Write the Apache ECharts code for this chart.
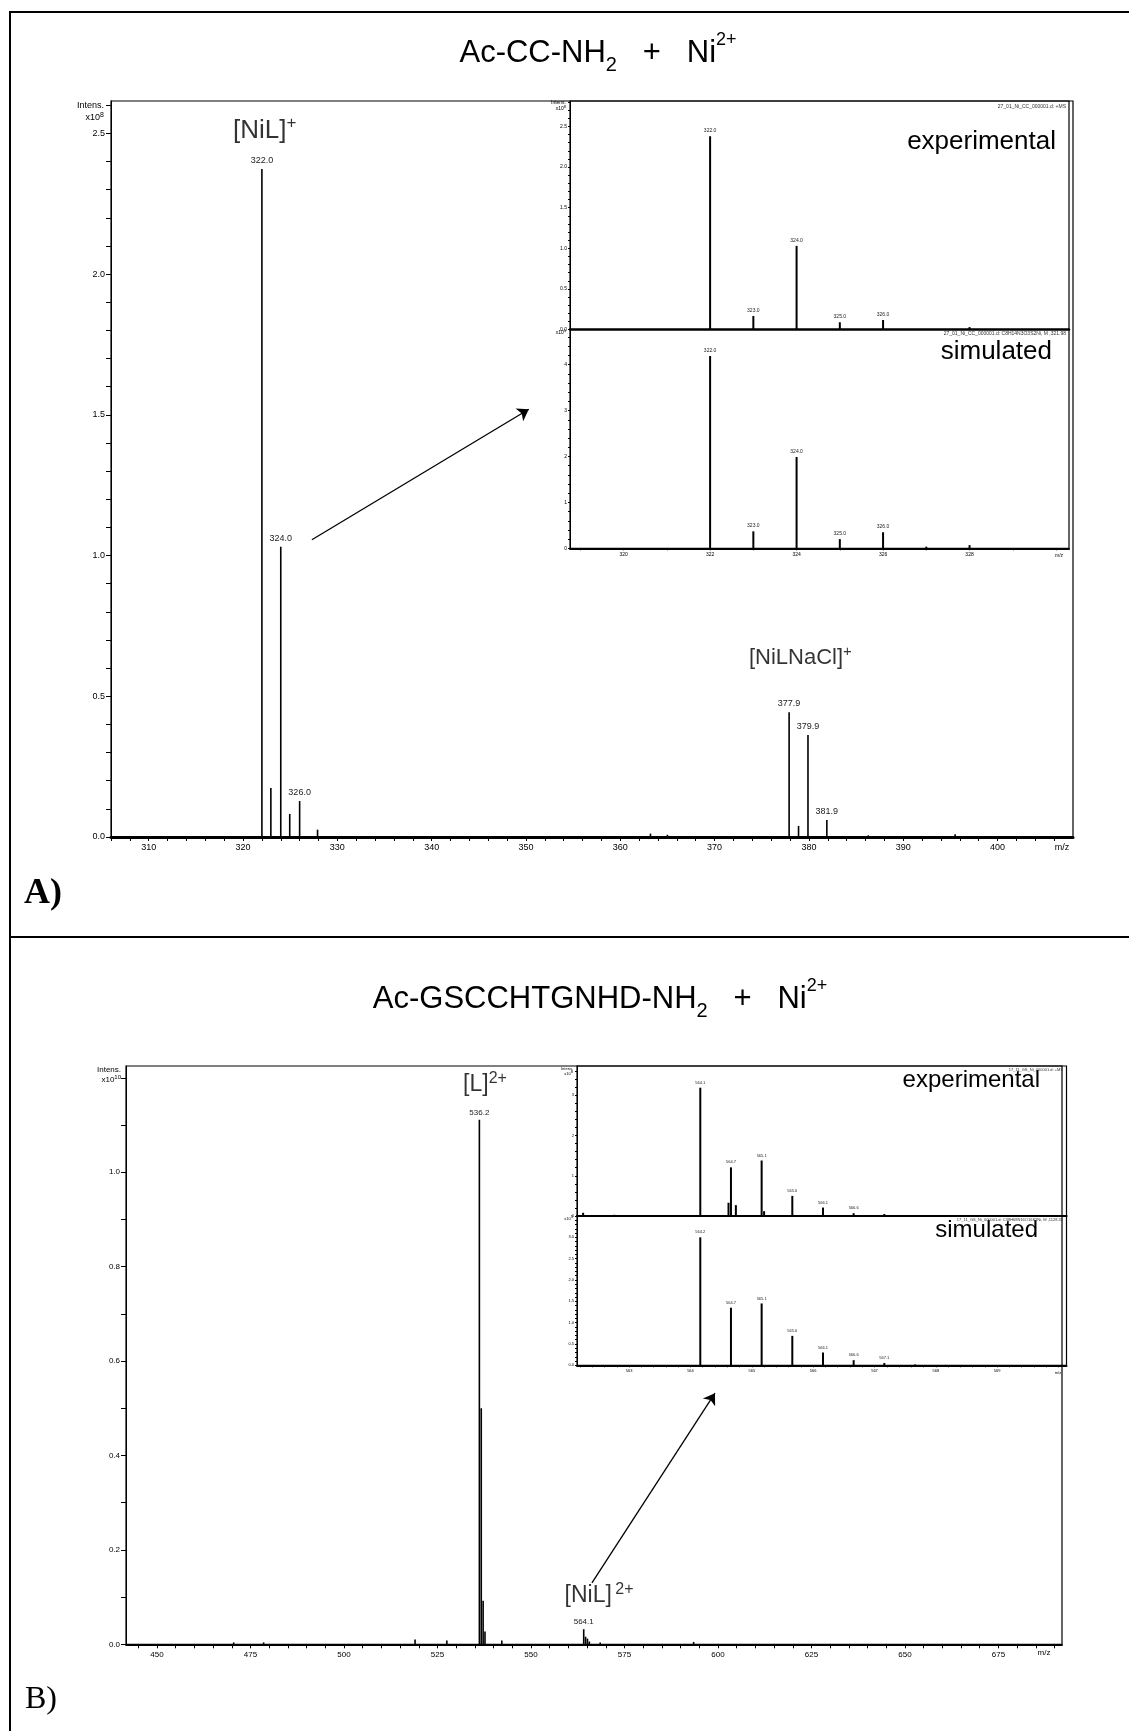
<!DOCTYPE html>
<html>
<head>
<meta charset="utf-8">
<script src="https://cdn.jsdelivr.net/npm/echarts@6/dist/echarts.min.js"></script>
<style>
  html, body { margin: 0; padding: 0; background: #fff; }
  #main { width: 1129px; height: 1731px; }
</style>
</head>
<body>
<div id="main"></div>
<script>
const FONT = 'Liberation Sans';

// Panel A, full spectrum (Intens. x10^8)
const aMainMz  = [322.0, 322.95, 324.0, 324.95, 326.0, 327.9, 363.2, 365.0, 377.9, 378.9, 379.9, 381.9, 386.3, 395.5];
const aMainInt = [2.373, 0.174, 1.031, 0.082, 0.128, 0.026, 0.012, 0.008, 0.443, 0.039, 0.362, 0.060, 0.006, 0.010];
const aMainLbl = ['322.0', '', '324.0', '', '326.0', '', '', '', '377.9', '', '379.9', '381.9', '', ''];

// Panel A inset, experimental (x10^8) and simulated (x10^5)
const aExpMz  = [322.0, 323.0, 324.0, 325.0, 326.0, 328.0];
const aExpInt = [2.38, 0.166, 1.03, 0.089, 0.117, 0.03];
const aExpLbl = ['322.0', '323.0', '324.0', '325.0', '326.0', ''];
const aSimMz  = [322.0, 323.0, 324.0, 325.0, 326.0, 327.0, 328.0];
const aSimInt = [4.19, 0.37, 1.99, 0.20, 0.35, 0.035, 0.07];
const aSimLbl = ['322.0', '323.0', '324.0', '325.0', '326.0', '', ''];

// Panel B, full spectrum (Intens. x10^10)
const bMainMz  = [470.5, 478.5, 519.0, 527.5, 536.2, 536.7, 537.2, 537.7, 542.2, 564.1, 564.6, 565.1, 565.6, 568.5, 593.5];
const bMainInt = [0.004, 0.004, 0.010, 0.008, 1.111, 0.500, 0.092, 0.027, 0.008, 0.032, 0.016, 0.012, 0.006, 0.004, 0.005];
const bMainLbl = ['', '', '', '', '536.2', '', '', '', '', '564.1', '', '', '', '', ''];

// Panel B inset, experimental (x10^8) and simulated (x10^5)
const bExpMz  = [562.25, 562.76, 564.16, 564.62, 564.66, 564.74, 565.16, 565.2, 565.66, 566.16, 566.66, 567.16, 567.32];
const bExpInt = [0.08, 0.03, 3.19, 0.33, 1.21, 0.27, 1.38, 0.12, 0.50, 0.21, 0.07, 0.05, 0.02];
const bExpLbl = ['', '', '564.1', '', '564.7', '', '565.1', '', '565.6', '566.1', '566.6', '', ''];
const bSimMz  = [564.16, 564.66, 565.16, 565.66, 566.16, 566.66, 567.16, 567.66, 568.16];
const bSimInt = [3.0, 1.35, 1.45, 0.69, 0.30, 0.12, 0.055, 0.02, 0.01];
const bSimLbl = ['564.2', '564.7', '565.1', '565.6', '566.1', '566.6', '567.1', '', ''];

// tick labels
const aInsetXLabels = [320, 322, 324, 326, 328];
const bMainXLabels  = [450, 475, 500, 525, 550, 575, 600, 625, 650, 675];
const bInsetXLabels = [563, 564, 565, 566, 567, 568, 569];

function range(a, b, step) {
    const out = [];
    for (let v = a; v <= b + 1e-9; v += step) out.push(Math.round(v * 100) / 100);
    return out;
}

// label only every n-th tenth (y axes with 0.1 / 0.2 minor ticks)
function tenths(every, digits, maxK) {
    return v => {
        const k = Math.round(v * 10);
        if (k % every !== 0 || (maxK !== undefined && k > maxK)) return '';
        return (k / 10).toFixed(digits);
    };
}

function axis(gi, min, max, p) {
    const a = {
        type: 'value', gridIndex: gi, min: min, max: max,
        axisLine: { show: true, onZero: false, lineStyle: { color: '#000', width: p.line || 1 } },
        axisTick: { show: p.ticks !== false, length: p.tick || 4, lineStyle: { color: '#000', width: 1 } },
        axisLabel: { show: p.labels !== false, color: '#000', fontSize: p.size || 9, fontFamily: FONT,
                     margin: p.margin || 5, showMinLabel: true, showMaxLabel: !!p.labelValues },
        splitLine: { show: false }
    };
    if (p.interval) a.interval = p.interval;
    if (p.tickValues) a.axisTick.customValues = p.tickValues;
    if (p.labelValues) a.axisLabel.customValues = p.labelValues;
    if (p.fmt) a.axisLabel.formatter = p.fmt;
    return a;
}

function sticks(gi, mz, ints, lbls, width, size, dist) {
    return {
        type: 'bar', xAxisIndex: gi, yAxisIndex: gi, barWidth: width, silent: true,
        itemStyle: { color: '#000' },
        label: { show: false, position: 'top', distance: dist, fontSize: size, fontFamily: FONT, color: '#222' },
        data: mz.map((x, i) => ({
            value: [x, ints[i]],
            label: lbls[i] ? { show: true, formatter: lbls[i] } : { show: false }
        }))
    };
}

function gridBox(left, top, width, height) {
    return { left, top, width, height, show: true, borderColor: '#000', borderWidth: 1.2,
             backgroundColor: 'transparent', containLabel: false, outerBoundsMode: 'none' };
}

const annRich = (big, small) => ({
    b: { fontSize: big, lineHeight: big + 6, fontFamily: FONT, color: '#000' },
    s: { fontSize: small, lineHeight: small + 3, verticalAlign: 'top', fontFamily: FONT, color: '#000' }
});

function txt(x, y, text, size, align, fill) {
    return {
        type: 'text', x: x, y: y, silent: true,
        style: { text: text, fontSize: size, fontFamily: FONT, fill: fill || '#000', align: align || 'left', verticalAlign: 'middle' }
    };
}

function richTxt(x, y, text, rich, align) {
    return {
        type: 'text', x: x, y: y, silent: true,
        style: { text: text, rich: rich, fill: '#000', align: align || 'center', verticalAlign: 'middle' }
    };
}

const titleRich = {
    t: { fontSize: 31, lineHeight: 44, fontFamily: FONT, fill: '#000' },
    sub: { fontSize: 20, lineHeight: 30, verticalAlign: 'bottom', fontFamily: FONT, fill: '#000' },
    sup: { fontSize: 18, lineHeight: 35, verticalAlign: 'top', fontFamily: FONT, fill: '#000' }
};
const expRich = (size) => ({
    a: { fontSize: size, lineHeight: size + 4, fontFamily: FONT, fill: '#000' },
    s: { fontSize: Math.max(4, size - 2), lineHeight: size, verticalAlign: 'top', fontFamily: FONT, fill: '#000' }
});

const chart = echarts.init(document.getElementById('main'));

chart.setOption({
    animation: false,
    backgroundColor: '#fff',
    grid: [
        gridBox(111, 101, 962, 736),
        gridBox(570, 101, 499, 228.5),
        gridBox(570, 329.5, 499, 218.8),
        gridBox(126, 1066, 936, 578.3),
        gridBox(577, 1066, 489.5, 150),
        gridBox(577, 1216, 489.5, 149.3)
    ],
    xAxis: [
        axis(0, 306, 408, { interval: 2, line: 3, tick: 4, size: 9, margin: 6,
                            fmt: v => (Math.round(v) % 10 === 0 ? String(Math.round(v)) : '') }),
        axis(1, 318.76, 330.3, { line: 2.5, ticks: false, labels: false }),
        axis(2, 318.76, 330.3, { line: 2, tick: 2, size: 5, margin: 4,
                                 tickValues: range(319, 330, 1), labelValues: aInsetXLabels }),
        axis(3, 441.7, 692, { line: 1.8, tick: 4, size: 8, margin: 6,
                              tickValues: range(445, 690, 5), labelValues: bMainXLabels }),
        axis(4, 562.15, 570.13, { line: 2.2, ticks: false, labels: false }),
        axis(5, 562.15, 570.13, { line: 2, tick: 2, size: 4, margin: 4,
                                  tickValues: range(562.2, 570, 0.2), labelValues: bInsetXLabels })
    ],
    yAxis: [
        axis(0, 0, 2.615, { interval: 0.1, tick: 5, size: 9, margin: 6, fmt: tenths(5, 1) }),
        axis(1, 0, 2.814, { interval: 0.1, tick: 2, size: 5, margin: 3, fmt: tenths(5, 1) }),
        axis(2, 0, 4.767, { interval: 0.2, tick: 2, size: 5, margin: 3, fmt: tenths(10, 0) }),
        axis(3, 0, 1.225, { interval: 0.1, tick: 5, size: 8, margin: 6, fmt: tenths(2, 1, 10) }),
        axis(4, 0, 3.73, { interval: 0.2, tick: 2, size: 4, margin: 3, fmt: tenths(10, 0) }),
        axis(5, 0, 3.5, { interval: 0.1, tick: 2, size: 4, margin: 3, fmt: tenths(5, 1) })
    ],
    series: [
        sticks(0, aMainMz, aMainInt, aMainLbl, 1.6, 9, 4),
        sticks(1, aExpMz, aExpInt, aExpLbl, 2, 5, 3),
        sticks(2, aSimMz, aSimInt, aSimLbl, 2, 5, 3),
        sticks(3, bMainMz, bMainInt, bMainLbl, 1.6, 8, 3),
        sticks(4, bExpMz, bExpInt, bExpLbl, 2, 4, 3),
        sticks(5, bSimMz, bSimInt, bSimLbl, 2, 4, 3),
        {
            type: 'scatter', xAxisIndex: 0, yAxisIndex: 0, symbolSize: 0, silent: true,
            label: { show: true, position: 'inside' },
            data: [
                { value: [322.3, 2.51], label: { formatter: '{b|[NiL]}{s|+}', rich: annRich(26, 17) } },
                { value: [379.1, 0.636], label: { formatter: '{b|[NiLNaCl]}{s|+}', rich: annRich(22, 15) } }
            ]
        },
        {
            type: 'scatter', xAxisIndex: 3, yAxisIndex: 3, symbolSize: 0, silent: true,
            label: { show: true, position: 'inside', rich: annRich(23, 16) },
            data: [
                { value: [537.7, 1.185], label: { formatter: '{b|[L]}{s|2+}' } },
                { value: [568.2, 0.102], label: { formatter: '{b|[NiL]} {s|2+}' } }
            ]
        },
        {
            type: 'lines', coordinateSystem: 'cartesian2d', xAxisIndex: 0, yAxisIndex: 0, silent: true,
            symbol: ['none', 'arrow'], symbolSize: 11,
            lineStyle: { color: '#000', width: 1.3, opacity: 1, curveness: 0 },
            data: [{ coords: [[327.3, 1.056], [350.3, 1.52]] }]
        },
        {
            type: 'lines', coordinateSystem: 'cartesian2d', xAxisIndex: 3, yAxisIndex: 3, silent: true,
            symbol: ['none', 'arrow'], symbolSize: 11,
            lineStyle: { color: '#000', width: 1.3, opacity: 1, curveness: 0 },
            data: [{ coords: [[566.3, 0.13], [599.2, 0.532]] }]
        }
    ],
    graphic: [
        // table frame
        { type: 'line', silent: true, shape: { x1: 10, y1: 12, x2: 1129, y2: 12 }, style: { stroke: '#000', lineWidth: 2 } },
        { type: 'line', silent: true, shape: { x1: 10, y1: 11, x2: 10, y2: 1731 }, style: { stroke: '#000', lineWidth: 2 } },
        { type: 'line', silent: true, shape: { x1: 10, y1: 937, x2: 1129, y2: 937 }, style: { stroke: '#000', lineWidth: 2 } },

        // titles
        richTxt(598, 53, '{t|Ac-CC-NH}{sub|2}{t|   +   Ni}{sup|2+}', titleRich),
        richTxt(600, 999, '{t|Ac-GSCCHTGNHD-NH}{sub|2}{t|   +   Ni}{sup|2+}', titleRich),

        // panel letters
        { type: 'text', x: 24, y: 894, silent: true,
          style: { text: 'A)', fontSize: 36, fontWeight: 'bold', fontFamily: 'Liberation Serif', fill: '#000', verticalAlign: 'middle' } },
        { type: 'text', x: 25, y: 1700, silent: true,
          style: { text: 'B)', fontSize: 32, fontFamily: 'Liberation Serif', fill: '#000', verticalAlign: 'middle' } },

        // intensity captions
        txt(104, 106, 'Intens.', 9, 'right'),
        richTxt(104, 118, '{a|x10}{s|8}', expRich(9), 'right'),
        txt(121, 1070, 'Intens.', 8, 'right'),
        richTxt(121, 1080, '{a|x10}{s|10}', expRich(8), 'right'),
        txt(566, 103, 'Intens.', 5, 'right'),
        richTxt(566, 109, '{a|x10}{s|8}', expRich(5), 'right'),
        richTxt(566, 333, '{a|x10}{s|5}', expRich(5), 'right'),
        txt(573, 1069, 'Intens.', 4, 'right'),
        richTxt(573, 1074, '{a|x10}{s|8}', expRich(4), 'right'),
        richTxt(573, 1219, '{a|x10}{s|5}', expRich(4), 'right'),

        // m/z captions
        txt(1062, 848, 'm/z', 9, 'center'),
        txt(1059, 556, 'm/z', 5, 'center'),
        txt(1044, 1653, 'm/z', 8, 'center'),
        txt(1058, 1373, 'm/z', 4, 'center'),

        // inset captions
        txt(1056, 142, 'experimental', 26, 'right'),
        txt(1052, 352, 'simulated', 26, 'right'),
        txt(1040, 1080, 'experimental', 24, 'right'),
        txt(1038, 1230, 'simulated', 24, 'right'),
        txt(1066, 107, '27_01_Ni_CC_000001.d: +MS', 5, 'right', '#333'),
        txt(1066, 334, '27_01_Ni_CC_000001.d: C8H14N3O3S2Ni, M ,321.98', 5, 'right', '#333'),
        txt(1063, 1070, '17_11_GS_Ni_000001.d: +MS', 4, 'right', '#333'),
        txt(1063, 1220, '17_11_GS_Ni_000001.d: C38H68N16O16S2Ni, M ,1128.32', 4, 'right', '#333')
    ]
});
</script>
</body>
</html>
